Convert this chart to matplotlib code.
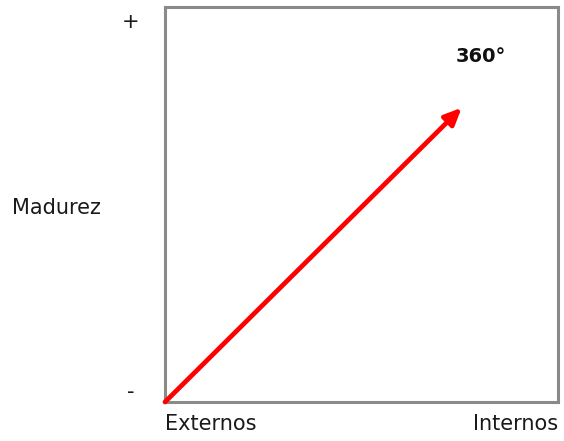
import matplotlib
matplotlib.use("Agg")
import matplotlib.pyplot as plt

x_labels = ["Externos", "Internos"]
y_labels = ["-", "+"]
y_title = "Madurez"
arrow_start = [0.0, 0.0]
arrow_end = [0.755, 0.745]
arrow_label = "360°"

W, H = 564, 441
fig = plt.figure(figsize=(W/100, H/100), dpi=100)
ax = fig.add_axes([165/W, 1-402/H, 393/W, 395/H])
ax.set_xlim(0, 1)
ax.set_ylim(0, 1)
ax.set_xticks([]); ax.set_yticks([])
for s in ax.spines.values():
    s.set_color("#8a8a8a")
    s.set_linewidth(2.2)

ax.annotate("", xy=arrow_end, xytext=arrow_start,
            arrowprops=dict(arrowstyle="-|>,head_length=1.0,head_width=0.45",
                            color="#ff0000", lw=3.4, shrinkA=0, shrinkB=0),
            annotation_clip=False)
ax.text(0.804, 0.875, arrow_label, fontsize=14, fontweight="bold",
        ha="center", va="center", color="#111111")

fs = 15
ax.text(0.0, -0.03, x_labels[0], transform=ax.transAxes, ha="left", va="top", fontsize=fs, color="#1a1a1a")
ax.text(1.0, -0.03, x_labels[1], transform=ax.transAxes, ha="right", va="top", fontsize=fs, color="#1a1a1a")
fig.text(131/W, 1-22/H, y_labels[1], ha="center", va="center", fontsize=fs, color="#1a1a1a")
fig.text(131/W, 1-392/H, y_labels[0], ha="center", va="center", fontsize=fs, color="#1a1a1a")
fig.text(12/W, 1-208/H, y_title, ha="left", va="center", fontsize=fs, color="#1a1a1a")

fig.savefig("out.png", dpi=100)
